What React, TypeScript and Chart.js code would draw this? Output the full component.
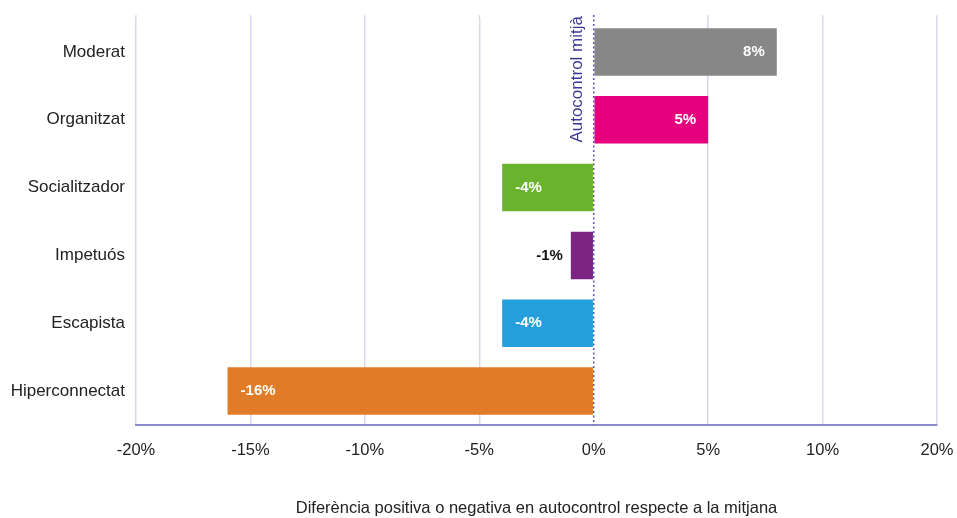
import React, { useEffect, useRef } from "react";
import { Chart, registerables } from "chart.js";

Chart.register(...registerables);

const categories = ["Moderat", "Organitzat", "Socialitzador", "Impetuós", "Escapista", "Hiperconnectat"];
const values = [8, 5, -4, -1, -4, -16];
const barColors = ["#878787", "#e6007e", "#6ab42d", "#7b2481", "#23a0dc", "#e07b27"];
const tickLabels = ["-20%", "-15%", "-10%", "-5%", "0%", "5%", "10%", "20%"];
const meanLabel = "Autocontrol mitjà";
const axisTitle = "Diferència positiva o negativa en autocontrol respecte a la mitjana";

const FONT = "'Liberation Sans', Arial, sans-serif";
const GRID = "#dad8ef";

const overlayPlugin = {
  id: "overlay",
  beforeDatasetsDraw(chart: any) {
    const ctx = chart.ctx;
    const xs = chart.scales.x;
    const area = chart.chartArea;
    ctx.save();
    ctx.strokeStyle = GRID;
    ctx.lineWidth = 1.5;
    xs.ticks.forEach((t: any) => {
      if (t.value === 0) return;
      const px = xs.getPixelForValue(t.value);
      ctx.beginPath();
      ctx.moveTo(px, area.top - 3);
      ctx.lineTo(px, area.top);
      ctx.stroke();
    });
    ctx.restore();
  },
  afterDatasetsDraw(chart: any) {
    const ctx = chart.ctx;
    const xs = chart.scales.x;
    const area = chart.chartArea;
    const x0 = xs.getPixelForValue(0);
    ctx.save();
    // dotted mean line
    ctx.strokeStyle = "#5a55b5";
    ctx.lineWidth = 1.5;
    ctx.setLineDash([2, 2.5]);
    ctx.beginPath();
    ctx.moveTo(x0, area.top - 3);
    ctx.lineTo(x0, area.bottom);
    ctx.stroke();
    ctx.setLineDash([]);
    // rotated label
    ctx.translate(x0 - 16, area.top - 2);
    ctx.rotate(-Math.PI / 2);
    ctx.fillStyle = "#3b3791";
    ctx.font = `17px ${FONT}`;
    ctx.textAlign = "right";
    ctx.textBaseline = "middle";
    ctx.fillText(meanLabel, 0, 0);
    ctx.restore();

    // value labels
    const meta = chart.getDatasetMeta(0);
    ctx.save();
    ctx.font = `bold 15px ${FONT}`;
    ctx.textBaseline = "middle";
    meta.data.forEach((bar: any, i: number) => {
      const v = values[i];
      const txt = `${v}%`;
      const w = ctx.measureText(txt).width;
      const barW = Math.abs(bar.x - bar.base);
      if (barW < w + 20) {
        ctx.fillStyle = "#111";
        ctx.textAlign = v < 0 ? "right" : "left";
        ctx.fillText(txt, v < 0 ? bar.x - 8 : bar.x + 8, bar.y);
      } else {
        ctx.fillStyle = "#ffffff";
        if (v >= 0) {
          ctx.textAlign = "right";
          ctx.fillText(txt, bar.x - 12, bar.y);
        } else {
          ctx.textAlign = "left";
          ctx.fillText(txt, bar.x + 13, bar.y);
        }
      }
    });
    ctx.restore();
  },
};

export default function App() {
  const ref = useRef<HTMLCanvasElement | null>(null);
  useEffect(() => {
    document.body.style.margin = "0";
    const chart = new Chart(ref.current as HTMLCanvasElement, {
      type: "bar",
      data: {
        labels: categories,
        datasets: [
          {
            data: values,
            backgroundColor: barColors,
            borderWidth: 0,
            categoryPercentage: 1,
            barPercentage: 0.7,
          },
        ],
      },
      options: {
        indexAxis: "y",
        animation: false,
        responsive: false,
        layout: { padding: { top: 18, right: 20, left: 0, bottom: 0 } },
        plugins: { legend: { display: false }, tooltip: { enabled: false } },
        scales: {
          x: {
            min: -20,
            max: 15,
            ticks: {
              stepSize: 5,
              color: "#222",
              font: { family: FONT, size: 16.5 },
              padding: 16,
              maxRotation: 0,
              callback: (_v: any, i: number) => tickLabels[i],
            },
            grid: {
              drawTicks: false,
              color: (c: any) => (c.tick && c.tick.value === 0 ? "rgba(0,0,0,0)" : GRID),
              lineWidth: 1.5,
            },
            border: { display: true, color: "#8d89cf", width: 2 },
            title: {
              display: true,
              text: axisTitle,
              color: "#222",
              font: { family: FONT, size: 16.5 },
              padding: { top: 0, bottom: 0 },
            },
            afterFit: (s: any) => {
              s.height = 93;
              s.paddingLeft = 0;
              s.paddingRight = 0;
            },
          },
          y: {
            ticks: {
              color: "#222",
              font: { family: FONT, size: 17 },
              padding: 11,
            },
            grid: { display: false, drawTicks: false },
            border: { display: false },
            afterFit: (s: any) => {
              s.width = 136;
              s.paddingTop = 0;
              s.paddingBottom = 0;
            },
          },
        },
      },
      plugins: [overlayPlugin],
    } as any);
    return () => chart.destroy();
  }, []);
  return <canvas ref={ref} width={957} height={518} style={{ display: "block" }} />;
}
